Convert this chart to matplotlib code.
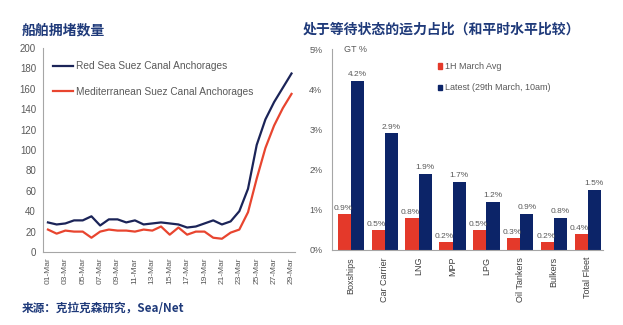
import matplotlib
matplotlib.use("Agg")
import matplotlib.pyplot as plt
from matplotlib.patches import Patch

# ---------------- data ----------------
days = [f"{d:02d}-Mar" for d in range(1, 30)]
red_sea = [29, 27, 28, 31, 31, 35, 26, 32, 32, 29, 31, 27, 28, 29, 28, 27, 24, 25,
           28, 31, 27, 30, 40, 62, 105, 130, 147, 161, 175]
mediterranean = [22, 18, 21, 20, 20, 14, 20, 22, 21, 21, 20, 22, 21, 25, 17, 24, 17,
                 20, 20, 14, 13, 19, 22, 39, 72, 102, 124, 141, 155]
left_yticks = [0, 20, 40, 60, 80, 100, 120, 140, 160, 180, 200]

categories = ["Boxships", "Car Carrier", "LNG", "MPP", "LPG", "Oil Tankers", "Bulkers", "Total Fleet"]
march_avg = [0.9, 0.5, 0.8, 0.2, 0.5, 0.3, 0.2, 0.4]
latest = [4.2, 2.9, 1.9, 1.7, 1.2, 0.9, 0.8, 1.5]
right_yticks = [0, 1, 2, 3, 4, 5]

# ---------------- style ----------------
TXT = "#595959"
AXC = "#A6A6A6"
NAVY_LINE = "#1B2458"
RED_LINE = "#E8452F"
NAVY_BAR = "#0C2468"
RED_BAR = "#E4392A"
TITLE_C = "#1F3A7A"
plt.rcParams['font.family'] = ['Liberation Sans', 'DejaVu Sans']
CJK = ['Noto Sans CJK SC', 'DejaVu Sans']

fig = plt.figure(figsize=(6.23, 3.25), dpi=100)
fig.patch.set_facecolor("white")

# ---------------- left chart ----------------
ax1 = fig.add_axes([0.069, 0.2246, 0.4045, 0.6277])
x = list(range(len(days)))
ax1.plot(x, red_sea, color=NAVY_LINE, lw=1.6, label="Red Sea Suez Canal Anchorages")
ax1.plot(x, mediterranean, color=RED_LINE, lw=1.6, label="Mediterranean Suez Canal Anchorages")
ax1.set_xlim(-0.57, 28.4)
ax1.set_ylim(0, 200)
ax1.set_yticks(left_yticks)
ax1.set_xticks(x[::2])
ax1.set_xticklabels(days[::2], rotation=90)
for s in ["top", "right"]:
    ax1.spines[s].set_visible(False)
for s in ["left", "bottom"]:
    ax1.spines[s].set_color(AXC)
    ax1.spines[s].set_linewidth(0.8)
ax1.tick_params(axis="y", length=0, pad=5, labelsize=7, labelcolor=TXT)
ax1.tick_params(axis="x", length=0, pad=4, labelsize=6, labelcolor=TXT)
leg1 = ax1.legend(loc="upper left", bbox_to_anchor=(0.04, 0.935), frameon=False,
                  fontsize=7.3, handlelength=2.0, handletextpad=0.3, labelspacing=1.55,
                  borderpad=0, borderaxespad=0)
for t in leg1.get_texts():
    t.set_color(TXT)

# ---------------- right chart ----------------
ax2 = fig.add_axes([0.533, 0.2308, 0.435, 0.618])
xb = list(range(len(categories)))
w = 0.39
ax2.bar([i - w / 2 for i in xb], march_avg, width=w, color=RED_BAR)
ax2.bar([i + w / 2 for i in xb], latest, width=w, color=NAVY_BAR)
for i in xb:
    ax2.text(i - w / 2 - 0.05, march_avg[i] + 0.05, f"{march_avg[i]:.1f}%", ha="center",
             va="bottom", fontsize=6, color=TXT)
    ax2.text(i + w / 2, latest[i] + 0.07, f"{latest[i]:.1f}%", ha="center",
             va="bottom", fontsize=6, color=TXT)
ax2.set_xlim(-0.56, 7.45)
ax2.set_ylim(0, 5)
ax2.set_yticks(right_yticks)
ax2.set_yticklabels([f"{v}%" for v in right_yticks])
ax2.set_xticks(xb)
ax2.set_xticklabels(categories, rotation=90)
for s in ["top", "right"]:
    ax2.spines[s].set_visible(False)
for s in ["left", "bottom"]:
    ax2.spines[s].set_color(AXC)
    ax2.spines[s].set_linewidth(0.8)
ax2.tick_params(axis="y", length=0, pad=7, labelsize=6.5, labelcolor=TXT)
ax2.tick_params(axis="x", length=0, pad=5, labelsize=6.5, labelcolor="#404040")
ax2.text(0.045, 1.0, "GT %", transform=ax2.transAxes, ha="left", va="center",
         fontsize=6.5, color=TXT)
handles = [Patch(color=RED_BAR), Patch(color=NAVY_BAR)]
leg2 = ax2.legend(handles, ["1H March Avg", "Latest (29th March, 10am)"],
                  loc="upper left", bbox_to_anchor=(0.39, 0.935), frameon=False,
                  fontsize=6.5, handlelength=0.5, handleheight=0.5, handletextpad=0.3,
                  labelspacing=1.35, borderpad=0, borderaxespad=0)
for t in leg2.get_texts():
    t.set_color(TXT)

# ---------------- titles & source ----------------
fig.text(22 / 623, 1 - 30 / 325, "船舶拥堵数量", family=CJK, fontsize=10,
         fontweight="bold", color=TITLE_C, ha="left", va="center")
fig.text(303 / 623, 1 - 30 / 325, "处于等待状态的运力占比（和平时水平比较）", family=CJK,
         fontsize=10, fontweight="bold", color=TITLE_C, ha="left", va="center")
fig.text(22 / 623, 1 - 308 / 325, "来源：克拉克森研究，Sea/Net", family=CJK, fontsize=8.4,
         fontweight="bold", color=TITLE_C, ha="left", va="center")

fig.savefig("out.png", dpi=100, facecolor="white")
